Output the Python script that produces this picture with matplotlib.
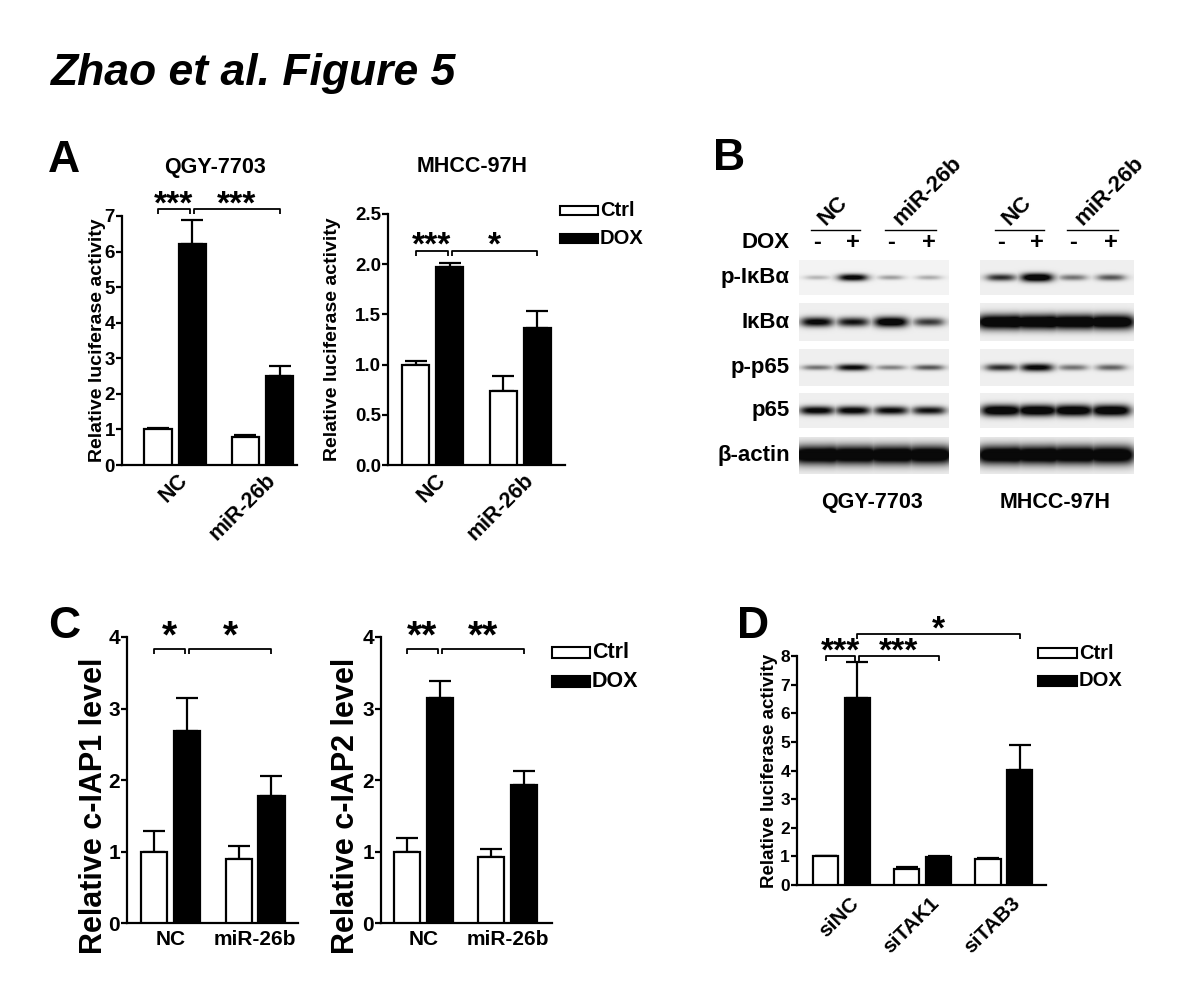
import numpy as np
import matplotlib
matplotlib.use("Agg")
import matplotlib.pyplot as plt
from matplotlib.patches import Rectangle
from matplotlib.transforms import ScaledTranslation
from matplotlib.ticker import FormatStrFormatter

plt.rcParams['font.family'] = ['Liberation Sans', 'DejaVu Sans']
plt.rcParams['font.weight'] = 'bold'
plt.rcParams['axes.labelweight'] = 'bold'

W, H = 1200, 988
DPI = 100

# ---------------- data ----------------
series_labels = ["Ctrl", "DOX"]

A_groups = ["NC", "miR-26b"]
A1_title = "QGY-7703"
A1_ctrl = [1.00, 0.80]
A1_ctrl_err = [0.05, 0.03]
A1_dox = [6.22, 2.50]
A1_dox_err = [0.68, 0.28]

A2_title = "MHCC-97H"
A2_ctrl = [1.00, 0.74]
A2_ctrl_err = [0.04, 0.15]
A2_dox = [1.97, 1.36]
A2_dox_err = [0.04, 0.17]

C_groups = ["NC", "miR-26b"]
C1_ctrl = [1.00, 0.90]
C1_ctrl_err = [0.29, 0.17]
C1_dox = [2.69, 1.77]
C1_dox_err = [0.46, 0.29]
C2_ctrl = [1.00, 0.92]
C2_ctrl_err = [0.19, 0.12]
C2_dox = [3.15, 1.93]
C2_dox_err = [0.24, 0.19]

D_groups = ["siNC", "siTAK1", "siTAB3"]
D_ctrl = [1.00, 0.57, 0.92]
D_ctrl_err = [0.03, 0.06, 0.02]
D_dox = [6.55, 0.97, 4.03]
D_dox_err = [1.24, 0.05, 0.85]

# Western blot: relative band intensity per lane (NC-, NC+, miR-26b-, miR-26b+)
blot_rows = ["p-IκBα", "IκBα", "p-p65", "p65", "β-actin"]
blot_cells = ["QGY-7703", "MHCC-97H"]
blot_QGY = [[0.15, 0.85, 0.22, 0.18],
            [0.80, 0.70, 0.95, 0.55],
            [0.35, 0.75, 0.30, 0.45],
            [0.80, 0.80, 0.75, 0.70],
            [1.00, 1.00, 1.00, 1.00]]
blot_MHCC = [[0.60, 1.00, 0.35, 0.45],
             [1.00, 1.00, 1.00, 1.00],
             [0.60, 0.80, 0.35, 0.40],
             [0.95, 0.95, 0.95, 0.95],
             [1.00, 1.00, 1.00, 1.00]]
blot_groups = ["NC", "miR-26b"]
dox_signs = ["-", "+", "-", "+"]

# ---------------- figure ----------------
fig = plt.figure(figsize=(W / DPI, H / DPI), dpi=DPI)
fig.patch.set_facecolor('white')


def add_ax(l, t, r, b):
    return fig.add_axes([l / W, 1 - b / H, (r - l) / W, (b - t) / H])


BW = 0.31
OFF = 0.195
LW = 1.6


def bar_panel(rect, groups, ctrl, ctrl_err, dox, dox_err, ylim, yticks,
              xlim, fmt, tick_fs, ylabel, ylabel_fs, ylabel_x_px, ylabel_y=0.5):
    ax = add_ax(*rect)
    x = np.arange(len(groups))
    ax.bar(x - OFF, ctrl, BW, color='white', edgecolor='black', lw=LW, zorder=3)
    ax.bar(x + OFF, dox, BW, color='black', edgecolor='black', lw=LW, zorder=3)
    z = np.zeros(len(x))
    ax.errorbar(x - OFF, ctrl, yerr=[z, ctrl_err], fmt='none', ecolor='black',
                elinewidth=LW, capsize=8, capthick=LW, zorder=2)
    ax.errorbar(x + OFF, dox, yerr=[z, dox_err], fmt='none', ecolor='black',
                elinewidth=LW, capsize=8, capthick=LW, zorder=2)
    ax.set_xlim(*xlim)
    ax.set_ylim(*ylim)
    ax.set_yticks(yticks)
    ax.yaxis.set_major_formatter(FormatStrFormatter(fmt))
    for s in ['top', 'right']:
        ax.spines[s].set_visible(False)
    for s in ['left', 'bottom']:
        ax.spines[s].set_linewidth(LW)
    ax.tick_params(axis='y', length=4, width=LW, pad=1, labelsize=tick_fs)
    ax.tick_params(axis='x', length=0)
    ax.set_ylabel(ylabel, fontsize=ylabel_fs, va='center')
    l, t, r, b = rect
    ax.yaxis.set_label_coords((ylabel_x_px - l) / (r - l), ylabel_y)
    ax.patch.set_alpha(0)
    return ax


def rot_xticks(ax, labels, fs, dx_px, dy_px):
    ax.set_xticks(range(len(labels)))
    ax.set_xticklabels(labels, rotation=45, ha='right', va='center',
                       rotation_mode='anchor', fontsize=fs)
    ax.tick_params(axis='x', pad=0)
    off = ScaledTranslation(dx_px / DPI, -dy_px / DPI, fig.dpi_scale_trans)
    for t in ax.get_xticklabels():
        t.set_transform(t.get_transform() + off)


def flat_xticks(ax, labels, fs, pad):
    ax.set_xticks(range(len(labels)))
    ax.set_xticklabels(labels, fontsize=fs)
    ax.tick_params(axis='x', pad=pad)


def bracket(ax, x1, x2, y, drop, text, fs, center_above_px):
    ax.plot([x1, x1, x2, x2], [y - drop, y, y, y - drop], color='black',
            lw=1.3, clip_on=False, solid_capstyle='butt')
    fs_px = fs * DPI / 72
    dy = (center_above_px - 0.58 * fs_px) * 72 / DPI
    ax.annotate(text, ((x1 + x2) / 2, y), xytext=(0, dy),
                textcoords='offset points', ha='center', va='baseline',
                fontsize=fs, annotation_clip=False)


g = 0.025
# ---- Panel A left ----
axA1 = bar_panel((122, 216, 297, 465), A_groups, A1_ctrl, A1_ctrl_err, A1_dox, A1_dox_err,
                 (0, 7), range(0, 8), (-0.606, 1.394), '%d', 13.5,
                 "Relative luciferase activity", 14, 97)
rot_xticks(axA1, A_groups, 15.5, 10, 12)
bracket(axA1, -OFF, OFF - g, 7.2, 0.15, "***", 24, 15)
bracket(axA1, OFF + g, 1 + OFF, 7.2, 0.15, "***", 24, 15)

# ---- Panel A right ----
axA2 = bar_panel((388, 214, 565, 465), A_groups, A2_ctrl, A2_ctrl_err, A2_dox, A2_dox_err,
                 (0, 2.5), np.arange(0, 2.51, 0.5), (-0.51, 1.51), '%.1f', 13.5,
                 "Relative luciferase activity", 14, 333)
rot_xticks(axA2, A_groups, 15.5, 10, 12)
bracket(axA2, -OFF, OFF - g, 2.13, 0.05, "***", 24, 16)
bracket(axA2, OFF + g, 1 + OFF, 2.13, 0.05, "*", 24, 16)

# ---- Panel C left ----
axC1 = bar_panel((127, 637, 298, 923), C_groups, C1_ctrl, C1_ctrl_err, C1_dox, C1_dox_err,
                 (0, 4), range(0, 5), (-0.52, 1.51), '%d', 15,
                 "Relative c-IAP1 level", 22, 94, 0.41)
flat_xticks(axC1, C_groups, 15, 5)
bracket(axC1, -OFF, OFF - g, 3.83, 0.07, "*", 28, 24)
bracket(axC1, OFF + g, 1 + OFF, 3.83, 0.07, "*", 28, 24)

# ---- Panel C right ----
axC2 = bar_panel((381, 637, 552, 923), C_groups, C2_ctrl, C2_ctrl_err, C2_dox, C2_dox_err,
                 (0, 4), range(0, 5), (-0.503, 1.53), '%d', 15,
                 "Relative c-IAP2 level", 22, 346, 0.41)
flat_xticks(axC2, C_groups, 15, 5)
bracket(axC2, -OFF, OFF - g, 3.83, 0.07, "**", 28, 24)
bracket(axC2, OFF + g, 1 + OFF, 3.83, 0.07, "**", 28, 24)

# ---- Panel D ----
axD = bar_panel((797, 656, 1046, 885), D_groups, D_ctrl, D_ctrl_err, D_dox, D_dox_err,
                (0, 8), range(0, 9), (-0.55, 2.52), '%d', 12.5,
                "Relative luciferase activity", 13.5, 769.5)
rot_xticks(axD, D_groups, 15, 14, 15)
bracket(axD, -OFF, OFF - g, 8.0, 0.17, "***", 24, 15)
bracket(axD, OFF + g, 1 + OFF, 8.0, 0.17, "***", 24, 15)
bracket(axD, OFF, 2 + OFF, 8.78, 0.2, "*", 24, 14)

# ---- Panel B : western blots ----
row_tb = [(260, 295), (303, 341), (349, 386), (393, 428), (437, 474)]
cell_lr = [(799, 949), (980, 1134)]
lane_px = [[817, 853, 891, 929], [1001, 1037, 1073, 1111]]
# band half-width (px) and thickness per row, per cell line
band_hw = [[13, 14], [15, 22], [15, 15], [16, 18], [22, 22]]
band_th = [[3.5, 4.0], [5.0, 7.0], [3.5, 4.0], [4.5, 5.5], [8.5, 8.5]]
bgs = [[0.95, 0.935], [0.935, 0.935], [0.935, 0.935], [0.935, 0.935], [0.935, 0.935]]


def blot_image(intens, l, r, t, b, lanes, hw, th, bg):
    wpx, hpx = r - l, b - t
    xs = np.arange(wpx) + 0.5
    ys = np.arange(hpx) + 0.5
    X, Y = np.meshgrid(xs, ys)
    dark = np.zeros_like(X)
    cy = hpx / 2
    for cx, inten in zip(lanes, intens):
        cxr = cx - l
        w = hw * (0.75 + 0.25 * inten)
        fx = 1 / (1 + np.exp((np.abs(X - cxr) - w) / 3.0))
        sig = th * (0.55 + 0.45 * inten)
        fy = np.exp(-((Y - cy) / sig) ** 2)
        dark = np.maximum(dark, inten * fx * fy) + 0.3 * inten * fx * fy
    dark = np.clip(dark * 1.1, 0, 1) ** 0.85
    return bg * (1 - 0.96 * dark)


blot_data = [blot_QGY, blot_MHCC]
for ci in range(2):
    l, r = cell_lr[ci]
    for ri in range(len(blot_rows)):
        t, b = row_tb[ri]
        ax = add_ax(l, t, r, b)
        img = blot_image(blot_data[ci][ri], l, r, t, b, lane_px[ci],
                         band_hw[ri][ci], band_th[ri][ci], bgs[ri][ci])
        ax.imshow(img, cmap='gray', vmin=0, vmax=1, aspect='auto',
                  interpolation='bilinear', extent=[0, r - l, b - t, 0])
        ax.axis('off')

# ---------------- overlay for free text ----------------
ov = fig.add_axes([0, 0, 1, 1])
ov.set_xlim(0, W)
ov.set_ylim(H, 0)
ov.axis('off')
ov.patch.set_alpha(0)

ov.text(50, 85, "Zhao et al. Figure 5", fontsize=32, fontstyle='italic',
        fontweight='bold', va='baseline', ha='left')
for letter, (x, y) in zip("ABCD", [(48, 172), (713, 170), (48, 638), (737, 638)]):
    ov.text(x, y, letter, fontsize=32, fontweight='bold', va='baseline', ha='left')

ov.text(215, 168, A1_title, fontsize=15.5, ha='center', va='center')
ov.text(472, 167, A2_title, fontsize=15.5, ha='center', va='center')


def legend(x, y1, y2, bw, bh, fs):
    for y, fc, lab in [(y1, 'white', series_labels[0]), (y2, 'black', series_labels[1])]:
        ov.add_patch(Rectangle((x, y - bh / 2), bw, bh, facecolor=fc,
                               edgecolor='black', lw=1.5))
        ov.text(x + bw + 2, y, lab, fontsize=fs, ha='left', va='center')


legend(560, 210.5, 238.5, 38, 9, 14.5)
legend(552, 652.5, 681, 38, 11, 15.5)
legend(1038, 653, 680.5, 39, 10, 14.5)

# blot annotations
for ri, name in enumerate(blot_rows):
    t, b = row_tb[ri]
    ov.text(790, (t + b) / 2, name, fontsize=16, ha='right', va='center')
ov.text(790, 242, "DOX", fontsize=16, ha='right', va='center')
for ci in range(2):
    lanes = lane_px[ci]
    for li, s in enumerate(dox_signs):
        ov.text(lanes[li], 242, s, fontsize=17, ha='center', va='center')
    for gi, gname in enumerate(blot_groups):
        x0 = lanes[2 * gi] - 6
        x1 = lanes[2 * gi + 1] + 7
        ov.plot([x0, x1], [230, 230], color='black', lw=1.0)
        xc = (x0 + x1) / 2
        ov.text(xc - 10, 226, gname, fontsize=16, rotation=45,
                rotation_mode='anchor', ha='left', va='baseline')
ov.text(872, 502, blot_cells[0], fontsize=15.5, ha='center', va='center')
ov.text(1055, 502, blot_cells[1], fontsize=15.5, ha='center', va='center')

fig.savefig("out.png", dpi=DPI)
